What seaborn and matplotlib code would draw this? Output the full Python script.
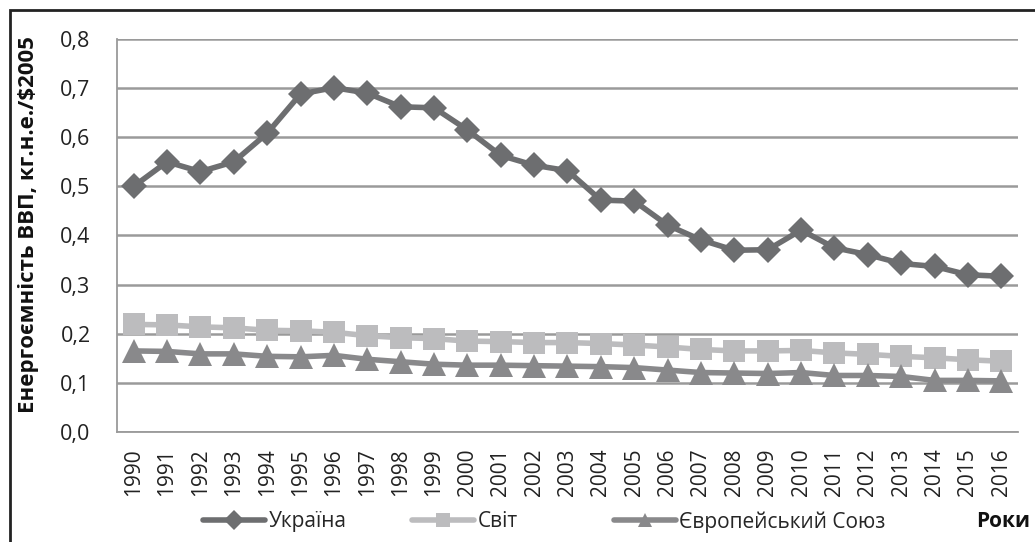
import numpy as np
import pandas as pd
import seaborn as sns
import matplotlib.pyplot as plt
from matplotlib.patches import Rectangle
from matplotlib.ticker import FuncFormatter, MultipleLocator

years = list(range(1990, 2017))
ukraine = [0.500, 0.550, 0.530, 0.550, 0.608, 0.688, 0.701, 0.690, 0.662, 0.660,
           0.615, 0.563, 0.543, 0.532, 0.472, 0.470, 0.421, 0.391, 0.370, 0.371,
           0.411, 0.375, 0.361, 0.343, 0.337, 0.320, 0.317]
world = [0.219, 0.218, 0.214, 0.212, 0.207, 0.206, 0.203, 0.196, 0.192, 0.190,
         0.185, 0.184, 0.182, 0.182, 0.180, 0.177, 0.173, 0.168, 0.165, 0.165,
         0.166, 0.161, 0.158, 0.154, 0.151, 0.147, 0.144]
eu = [0.165, 0.164, 0.159, 0.159, 0.154, 0.153, 0.156, 0.148, 0.143, 0.138,
      0.136, 0.136, 0.135, 0.134, 0.133, 0.131, 0.126, 0.121, 0.120, 0.119,
      0.121, 0.115, 0.115, 0.113, 0.105, 0.105, 0.104]
names = ['Україна', 'Світ', 'Європейський Союз']
colors = ['#6d6e70', '#bcbcbe', '#89898b']
markers = ['D', 's', '^']
msizes = [13, 16, 17]

df = pd.DataFrame({'Рік': years * 3,
                   'value': ukraine + world + eu,
                   'series': [n for n in names for _ in years]})

sns.set_style('white')
plt.rcParams['font.family'] = ['Open Sans', 'DejaVu Sans']

fig = plt.figure(figsize=(10.35, 5.42), dpi=100)
ax = fig.add_axes([0.113, 0.203, 0.8706, 0.725])

sns.lineplot(data=df, x='Рік', y='value', hue='series', style='series',
             palette=dict(zip(names, colors)), markers=dict(zip(names, markers)),
             dashes=False, linewidth=4, markeredgewidth=0, ax=ax, legend=False)
for line, ms in zip(ax.lines, msizes):
    line.set_markersize(ms)

ax.set_xlim(1989.5, 2016.5)
ax.set_ylim(0, 0.8)
ax.yaxis.set_major_locator(MultipleLocator(0.1))
ax.yaxis.set_major_formatter(FuncFormatter(lambda v, p: f'{v:.1f}'.replace('.', ',')))
ax.set_xticks(years)
ax.set_xticklabels([str(y) for y in years], rotation=90)
ax.set_xticks([y + 0.5 for y in [1989] + years], minor=True)
ax.tick_params(axis='x', which='major', length=0, labelsize=15, pad=12, colors='#222222')
ax.tick_params(axis='x', which='minor', length=7, width=1.3, color='#9a9a9a', direction='out')
ax.tick_params(axis='y', length=7, width=1.3, color='#9a9a9a', labelsize=15.5,
               labelcolor='#222222', direction='out', pad=12)
ax.grid(axis='y', color='#9a9a9a', linewidth=1.8)
ax.set_axisbelow(True)
for s in ['top', 'right']:
    ax.spines[s].set_visible(False)
for s in ['left', 'bottom']:
    ax.spines[s].set_color('#9a9a9a')
    ax.spines[s].set_linewidth(1.3)
ax.set_xlabel('')
ax.set_ylabel('Енергоємність ВВП, кг.н.е./$2005', fontsize=16, fontweight='bold',
              color='#111111')
ax.yaxis.set_label_coords(-0.086, 0.527)

# legend entries spaced like the original
legend_x = [0.196, 0.398, 0.593]
for c, m, n, lx in zip(colors, markers, names, legend_x):
    h = plt.Line2D([], [], color=c, marker=m, lw=4, ms=10, mew=0)
    fig.legend([h], [n], loc='center left', bbox_to_anchor=(lx, 0.037),
               frameon=False, fontsize=15, handlelength=3.0, handletextpad=0.15,
               borderpad=0, borderaxespad=0)
fig.text(0.943, 0.037, 'Роки', fontsize=15, fontweight='bold', va='center',
         color='#111111')

fig.patches.append(Rectangle((0.0097, -0.5), 2, 1.4815, transform=fig.transFigure,
                             fill=False, ec='#222222', lw=2, zorder=10))

fig.savefig('out.png', dpi=100)
